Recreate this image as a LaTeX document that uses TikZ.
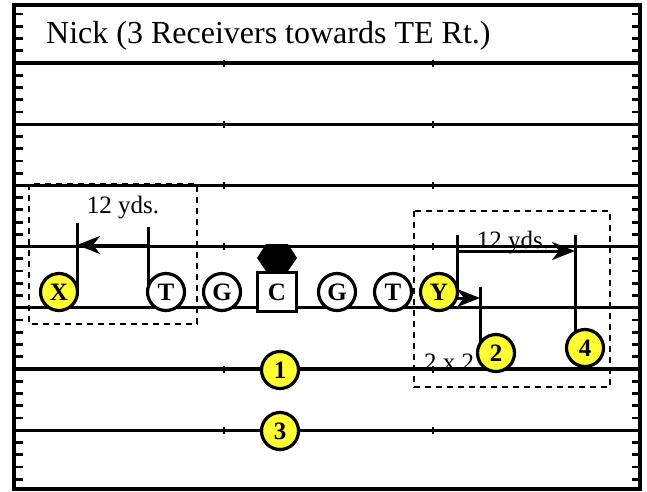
\documentclass[tikz,border=0pt]{standalone}
\usepackage{fontspec}
\setmainfont{Liberation Serif}
\usetikzlibrary{arrows.meta}
\definecolor{plyellow}{HTML}{FFFF33}
\begin{document}
\begin{tikzpicture}[x=1pt,y=-1pt,
  fieldline/.style={line width=3.2pt},
  tickmark/.style={line width=2.8pt},
  zonebox/.style={line width=2.8pt, dash pattern=on 6pt off 5pt},
  route/.style={line width=3pt},
  player/.style={circle, draw, line width=3.2pt, minimum size=37pt, inner sep=0pt, fill=white, font=\fontsize{25}{25}\selectfont\bfseries},
  receiver/.style={player, fill=plyellow},
  centerbox/.style={rectangle, draw, line width=3.2pt, minimum width=39pt, minimum height=39pt, inner sep=0pt, fill=white, font=\fontsize{25}{25}\selectfont\bfseries},
  lbl/.style={font=\fontsize{25}{28}\selectfont, inner sep=0pt, anchor=base},
  tip/.style={-{Stealth[length=23pt,width=18pt,inset=7pt]}}
]
\useasboundingbox (0,0) rectangle (647,491);
\fill[white] (0,0) rectangle (647,491);
% yard marks
\foreach \j in {1,...,39}{
  \pgfmathsetmacro{\yy}{1.8+\j*12.24}
  \draw[tickmark] (14,\yy) -- (23,\yy);
  \draw[tickmark] (632,\yy) -- (640,\yy);
}
% yard lines
\foreach \k in {1,...,7}{
  \pgfmathsetmacro{\yy}{1.8+\k*61.2}
  \draw[fieldline] (14,\yy) -- (640,\yy);
  \draw[tickmark] (224,\yy-3.5) -- (224,\yy+3.5);
  \draw[tickmark] (433,\yy-3.5) -- (433,\yy+3.5);
}
% frame
\draw[fieldline] (14,5) rectangle (640,489);
% title
\node[font=\fontsize{32}{36}\selectfont, inner sep=0pt, anchor=base west] (title) at (46,43) {Nick (3 Receivers towards TE Rt.)};
% zone boxes
\draw[zonebox] (29,184) rectangle (197,324);
\draw[zonebox] (414,211) rectangle (610,387);
% labels
\node[lbl] (yds1) at (123,213) {12 yds.};
\node[lbl] (yds2) at (513,248) {12 yds.};
\node[lbl] (twoxtwo) at (449,370) {2 x 2};
% routes (left)
\coordinate (xtop) at (77,223);
\coordinate (xbot) at (77,290);
\coordinate (ttop) at (148,227);
\coordinate (tbot) at (148,290);
\coordinate (xa1) at (148,245);
\coordinate (xa0) at (77,245);
\draw[route] (xtop) -- (xbot);
\draw[route] (ttop) -- (tbot);
\draw[route,tip] (xa1) -- (xa0);
% routes (right)
\coordinate (ytop) at (457,235);
\coordinate (ybot) at (457,292);
\coordinate (ya0) at (457,251);
\coordinate (ya1) at (575,251);
\coordinate (ftop) at (575,235);
\coordinate (fbot) at (575,345);
\coordinate (yb0) at (452,298);
\coordinate (yb1) at (480,298);
\coordinate (stop) at (480,287);
\coordinate (sbot) at (480,345);
\draw[route] (ytop) -- (ybot);
\draw[route,tip] (ya0) -- (ya1);
\draw[route] (ftop) -- (fbot);
\draw[route,tip] (yb0) -- (yb1);
\draw[route] (stop) -- (sbot);
% ball
\fill (257,258) -- (266,244) -- (288,244) -- (297,258) -- (288,271) -- (266,271) -- cycle;
% players
\node[receiver] (X) at (59,292) {X};
\node[player] (LT) at (166,292) {T};
\node[player] (LG) at (222,292) {G};
\node[centerbox] (C) at (277,292) {C};
\node[player] (RG) at (337,292) {G};
\node[player] (RT) at (393,292) {T};
\node[receiver] (Y) at (439,292) {Y};
\node[receiver] (one) at (280,370) {1};
\node[receiver] (three) at (280,431) {3};
\node[receiver] (two) at (496,353) {2};
\node[receiver] (four) at (585,348) {4};
\end{tikzpicture}
\end{document}
